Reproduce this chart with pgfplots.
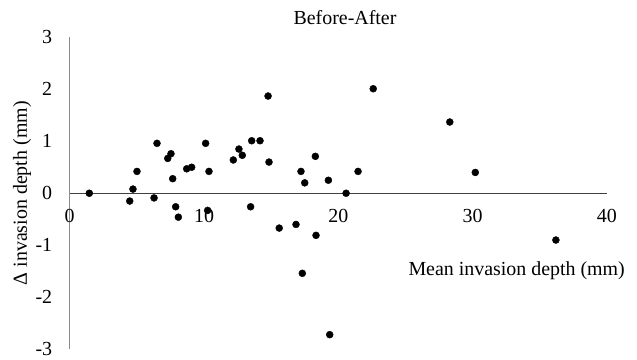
\documentclass[border=0pt]{standalone}
\usepackage{pgfplots}
\pgfplotsset{compat=1.18}
\usepackage{fontspec}
\setmainfont{Liberation Serif}
\definecolor{yax}{HTML}{8C8C8C}
\definecolor{xax}{HTML}{404040}
\pgfplotstableread{
x y
1.46 0.00
4.47 -0.15
4.71 0.08
5.01 0.42
6.28 -0.09
6.50 0.96
7.30 0.67
7.54 0.76
7.67 0.28
7.89 -0.26
8.09 -0.46
8.71 0.47
9.08 0.50
10.12 0.96
10.27 -0.33
10.37 0.42
12.18 0.64
12.60 0.85
12.85 0.73
13.47 -0.26
13.55 1.01
14.17 1.01
14.77 1.87
14.84 0.60
15.60 -0.67
16.85 -0.60
17.22 0.42
17.32 -1.54
17.50 0.20
18.29 0.71
18.34 -0.81
19.26 0.25
19.36 -2.72
20.58 0.00
21.47 0.42
22.60 2.01
28.30 1.37
30.20 0.40
36.20 -0.90
}\datatable
\begin{document}
\begin{tikzpicture}[font=\fontsize{20}{24}\selectfont]
\begin{axis}[
  scale only axis,
  width=537.3bp, height=312bp,
  xmin=0, xmax=40, ymin=-3, ymax=3,
  axis x line*=middle, axis y line*=left,
  hide obscured x ticks=false, hide obscured y ticks=false,
  x axis line style={xax, line width=0.9pt},
  y axis line style={yax, line width=0.9pt},
  xtick={0,10,20,30,40}, xticklabels={0,10,20,30,40},
  ytick={-3,-2,-1,0,1,2,3}, yticklabels={-3,-2,-1,0,1,2,3},
  major tick length=0pt,
  tick label style={font=\fontsize{20}{24}\selectfont, inner sep=0pt},
  xticklabel style={anchor=base, yshift=-29.7bp},
  yticklabel style={anchor=east, xshift=-17.4bp},
  clip=false,
]
\addplot[only marks, mark=*, mark size=3.5bp, black] table[x=x,y=y] {\datatable};
\node[anchor=base, inner sep=0pt] at (axis cs:20.5,3.237) {Before-After};
\node[anchor=base east, inner sep=0pt] at (axis cs:41.35,-1.59) {Mean invasion depth (mm)};
\node[rotate=90, anchor=center, inner sep=0pt] at (axis cs:-3.55,0) {Δ invasion depth (mm)};
\coordinate (bbA) at (axis cs:-5.19,-3.206);
\coordinate (bbB) at (axis cs:42.24,3.717);
\end{axis}
\pgfresetboundingbox
\path (bbA) rectangle (bbB);
\end{tikzpicture}
\end{document}
